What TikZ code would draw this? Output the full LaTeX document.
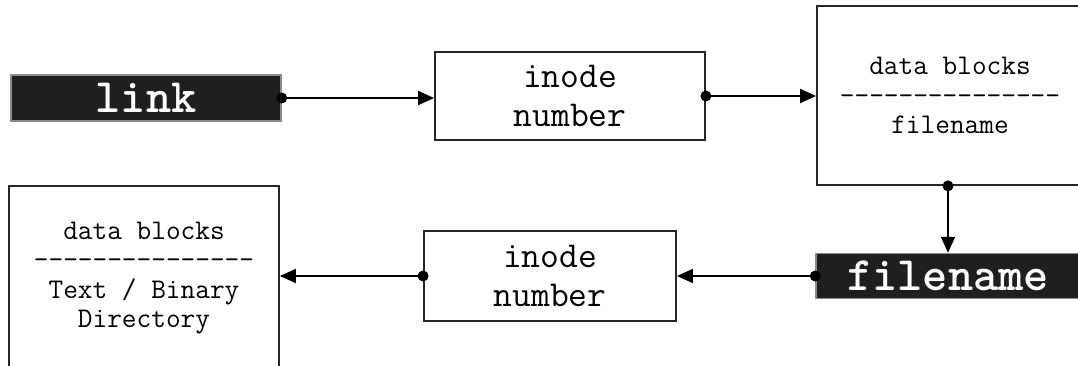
\documentclass[tikz,border=0pt]{standalone}
\usepackage{fontspec}
\usetikzlibrary{arrows.meta}
\begin{document}
\begin{tikzpicture}[x=1pt,y=-1pt,
  box/.style={draw=black!85, line width=1.8pt, fill=white, align=center, inner sep=0pt,
    font=\ttfamily\fontsize{28.5}{29.6}\selectfont},
  inodebox/.style={box, font=\ttfamily\fontsize{36.5}{39}\selectfont},
  darkbox/.style={draw=black!45, line width=1.5pt, fill=black!88, text=white, inner sep=0pt,
    font=\ttfamily\bfseries\fontsize{48}{48}\selectfont},
  conn/.style={line width=1.8pt, -{Triangle[length=16pt,width=14pt]}},
  dot/.style={fill=black}
]
\useasboundingbox (0,0) rectangle (1078,365);
\clip (0,0) rectangle (1078,365);

\node[darkbox, minimum width=270pt, minimum height=46pt] (link) at (146,98) {link};
\node[inodebox, minimum width=270pt, minimum height=88pt] (inode1) at (570,96) {inode\\number};
\node[box, minimum width=266pt, minimum height=179pt] (data1) at (950,95.5)
  {data blocks\\---------------\\filename};
\node[darkbox, minimum width=264pt, minimum height=45pt] (fname) at (948,276) {filename};
\node[inodebox, minimum width=252pt, minimum height=90pt] (inode2) at (550,276) {inode\\number};
\node[box, minimum width=270pt, minimum height=184pt] (data2) at (144,278)
  {data blocks\\---------------\\Text / Binary\\Directory};

\draw[conn] (link.east) -- (link.east -| inode1.west);
\draw[conn] (inode1.east) -- (inode1.east -| data1.west);
\draw[conn] (fname.north |- data1.south) -- (fname.north);
\draw[conn] (fname.west) -- (fname.west -| inode2.east);
\draw[conn] (inode2.west) -- (inode2.west -| data2.east);

\fill[dot] (link.east) circle (5.5pt);
\fill[dot] (inode1.east) circle (5.5pt);
\fill[dot] (fname.north |- data1.south) circle (5.5pt);
\fill[dot] (fname.west) circle (5.5pt);
\fill[dot] (inode2.west) circle (5.5pt);
\end{tikzpicture}
\end{document}
